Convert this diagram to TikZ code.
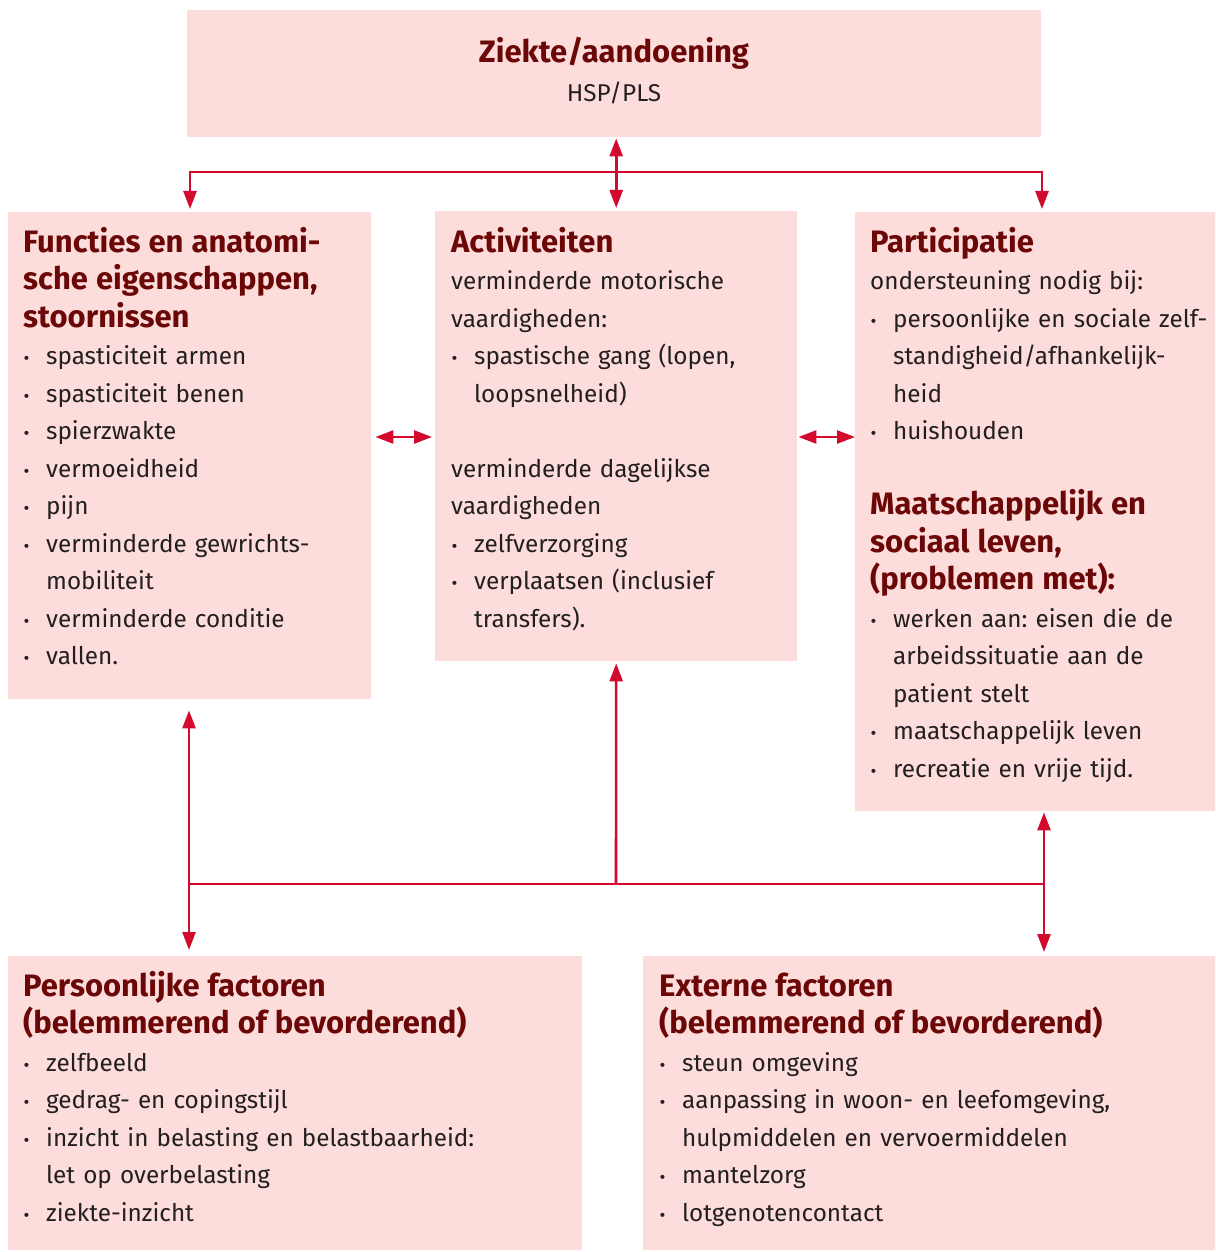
\documentclass[tikz,border=0pt]{standalone}
\usepackage{fontspec}
\setmainfont{Fira Sans}
\usetikzlibrary{arrows.meta,positioning,calc}
\definecolor{boxfill}{HTML}{FDDDDB}
\definecolor{arrowred}{HTML}{D20A2E}
\definecolor{titlered}{HTML}{6B0707}
\definecolor{textgray}{HTML}{231F20}
\frenchspacing
\newcommand{\bodyfont}{\fontsize{24.3}{37.5}\selectfont}
\newcommand{\hd}[1]{{\color{titlered}\bfseries\fontsize{31}{37.5}\selectfont #1}}
\newcommand{\itm}{\par\hangindent=23pt\hangafter=1\noindent
    \makebox[23pt][l]{\hspace{0.5pt}{\fontsize{18}{18}\selectfont\textbullet}}}
\tikzset{
    icfbox/.style={fill=boxfill, draw=none, inner sep=0pt, anchor=north west},
    icftext/.style={anchor=base west, inner sep=0pt, align=left,
        text width=560pt, text=textgray, font=\bodyfont},
    link/.style={draw=arrowred, line width=2.6pt},
    dbl/.style={link, {Triangle[length=18pt,width=13pt]}-{Triangle[length=18pt,width=13pt]}},
    sgl/.style={link, -{Triangle[length=18pt,width=13pt]}},
}

\begin{document}
\begin{tikzpicture}[x=1pt, y=-1pt]
\useasboundingbox (0,0) rectangle (1215,1252);
% boxes
\node[icfbox, minimum width=854pt, minimum height=127pt] (top) at (187,10) {};
\node[icfbox, minimum width=363pt, minimum height=487pt] (funct) at (8,212) {};
\node[icfbox, minimum width=362pt, minimum height=450pt] (act) at (435,211) {};
\node[icfbox, minimum width=360pt, minimum height=599pt] (part) at (855,212) {};
\node[icfbox, minimum width=574pt, minimum height=294pt] (pers) at (8,956) {};
\node[icfbox, minimum width=572pt, minimum height=294pt] (ext) at (643,956) {};
% texts
\node[icftext, anchor=base, align=center, text width=800pt] (toptext) at (614,63)
    {\hd{Ziekte/aandoening}\\[1.5pt]HSP/PLS};
\node[icftext] (functtext) at (23,252) {%
\hd{Functies en anatomi-\\sche eigenschappen,\\stoornissen}
\itm spasticiteit armen
\itm spasticiteit benen
\itm spierzwakte
\itm vermoeidheid
\itm pijn
\itm verminderde gewrichts-\newline mobiliteit
\itm verminderde conditie
\itm vallen.\par};
\node[icftext] (acttext) at (451,252) {%
\hd{Activiteiten}\\
verminderde motorische\\
vaardigheden:
\itm spastische gang (lopen,\newline loopsnelheid)
\par\vskip37.5pt
verminderde dagelijkse\\
vaardigheden
\itm zelfverzorging
\itm verplaatsen (inclusief\newline transfers).\par};
\node[icftext] (parttext) at (870,252) {%
\hd{Participatie}\\
ondersteuning nodig bij:
\itm persoonlijke en sociale zelf-\newline standigheid/afhankelijk-\newline heid
\itm huishouden
\par\vskip37.5pt
\hd{Maatschappelijk en\\sociaal leven,\\(problemen met):}
\itm werken aan: eisen die de\newline arbeidssituatie aan de\newline patient stelt
\itm maatschappelijk leven
\itm recreatie en vrije tijd.\par};
\node[icftext] (perstext) at (23,996) {%
\hd{Persoonlijke factoren\\(belemmerend of bevorderend)}
\itm zelfbeeld
\itm gedrag- en copingstijl
\itm inzicht in belasting en belastbaarheid:\newline let op overbelasting
\itm ziekte-inzicht\par};
\node[icftext] (exttext) at (659,996) {%
\hd{Externe factoren\\(belemmerend of bevorderend)}
\itm steun omgeving
\itm aanpassing in woon- en leefomgeving,\newline hulpmiddelen en vervoermiddelen
\itm mantelzorg
\itm lotgenotencontact\par};
% connectors
\coordinate (tl) at (190,172);
\coordinate (tr) at (1042,172);
\coordinate (midy) at (0,437);
\coordinate (bl) at (189,884);
\coordinate (bm) at (616,884);
\coordinate (br) at (1044,884);
\draw[dbl, shorten <=1pt, shorten >=3pt] (top.south -| act.north) -- (act.north);
\draw[dbl, shorten <=3pt, shorten >=3pt] (tl |- funct.north) -- (tl) -- (tr) -- (tr |- part.north);
\draw[dbl, shorten <=4pt, shorten >=3pt] (funct.east |- midy) -- (act.west |- midy);
\draw[dbl, shorten <=1pt, shorten >=0pt] (act.east |- midy) -- (part.west |- midy);
\draw[dbl, shorten <=11pt, shorten >=6pt] (bl |- funct.south) -- (bl |- pers.north);
\draw[link] (bl) -- (br);
\draw[sgl, shorten >=2pt] (bm) -- (act.south);
\draw[dbl, shorten <=1pt, shorten >=4pt] (br |- part.south) -- (br |- ext.north);
\end{tikzpicture}
\end{document}
